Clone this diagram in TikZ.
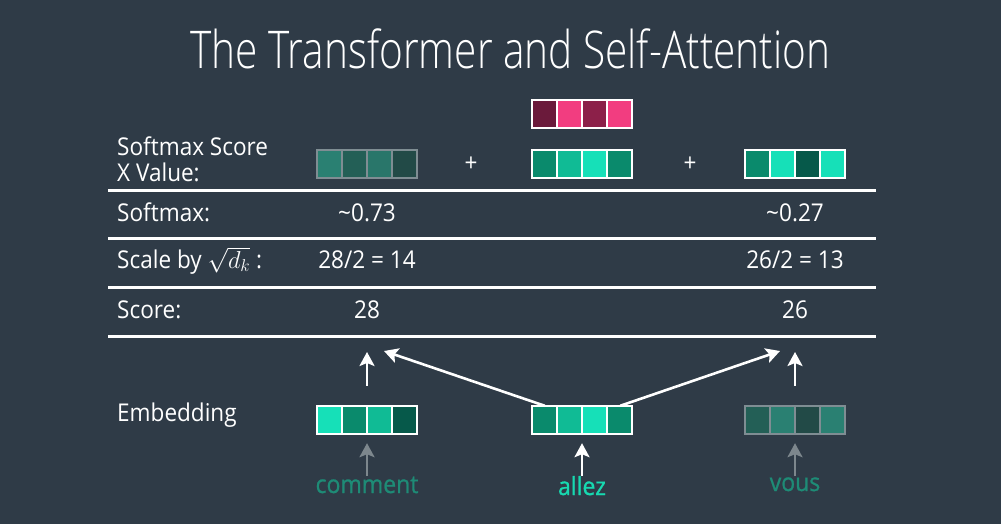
\RequirePackage{fix-cm}
\documentclass[tikz,border=0pt]{standalone}
\usepackage{fontspec}
\setmainfont{Open Sans}[FakeStretch=0.92]
\newfontfamily\titlefont{Open Sans Light}[FakeStretch=0.78]
\newfontfamily\wordfont{Open Sans}[FakeStretch=0.92,FakeBold=0.9]
\usetikzlibrary{arrows.meta,calc}
\definecolor{bg}{HTML}{2F3B47}
\definecolor{pkD}{HTML}{6B1A3B}
\definecolor{pkB}{HTML}{F23D80}
\definecolor{pkM}{HTML}{8C2049}
\definecolor{tA}{HTML}{16E0B8}
\definecolor{tB}{HTML}{10BB95}
\definecolor{tC}{HTML}{0A8A6C}
\definecolor{tD}{HTML}{06594A}
\definecolor{dA}{HTML}{2A8072}
\definecolor{dB}{HTML}{235F56}
\definecolor{dC}{HTML}{29766A}
\definecolor{dD}{HTML}{224A47}
\definecolor{dimborder}{HTML}{7F8D93}
\definecolor{wdim}{HTML}{1E8B76}
\definecolor{wbright}{HTML}{17D9B0}
\definecolor{arrgray}{HTML}{7D878D}
\newcommand\vecb[8]{%
  \fill[#4] (#2,#3) rectangle ++(25,28);
  \fill[#5] (#2+25,#3) rectangle ++(25,28);
  \fill[#6] (#2+50,#3) rectangle ++(25,28);
  \fill[#7] (#2+75,#3) rectangle ++(25,28);
  \draw[#8] (#2,#3) rectangle ++(100,28);
  \draw[#8] (#2+25,#3) -- ++(0,28);
  \draw[#8] (#2+50,#3) -- ++(0,28);
  \draw[#8] (#2+75,#3) -- ++(0,28);
  \node[inner sep=0pt, minimum width=100pt, minimum height=28pt] (#1) at (#2+50,#3+14) {};
}
\begin{document}
\begin{tikzpicture}[x=1pt,y=-1pt,
  lbl/.style={text=white, font=\fontsize{24.5}{29}\selectfont, inner sep=0pt, anchor=base west},
  val/.style={text=white, font=\fontsize{24.5}{29}\selectfont, inner sep=0pt, anchor=base},
  word/.style={font=\wordfont\fontsize{25}{29}\selectfont, inner sep=0pt, anchor=base},
  rule/.style={draw=white, line width=3pt},
  brd/.style={draw=white, line width=2pt},
  dbrd/.style={draw=dimborder, line width=1.6pt},
  arr/.style={draw=white, line width=2.6pt, -{Stealth[length=14pt,width=15pt,inset=3pt]}},
  garr/.style={arr, draw=arrgray}]
\fill[bg] (0,0) rectangle (1001,524);
\useasboundingbox (0,0) rectangle (1001,524);
% title
\node[font=\titlefont\fontsize{52}{60}\selectfont, text=white, inner sep=0pt, anchor=base] (title) at (510.5,69) {The Transformer and Self-Attention};
% rules
\draw[rule] (108,190.5) -- (876,190.5);
\draw[rule] (108,238.5) -- (876,238.5);
\draw[rule] (108,287.5) -- (876,287.5);
\draw[rule] (108,336.5) -- (876,336.5);
% row labels
\node[lbl] (l1a) at (117,155) {Softmax Score};
\node[lbl] (l1b) at (117,181.5) {X Value:};
\node[lbl] (l2) at (117,221.5) {Softmax:};
\node[lbl] (l3) at (117,268) {Scale by $\sqrt{d_k}$ :};
\node[lbl] (l4) at (117,318) {Score:};
% values
\node[val] (v2a) at (367,221.5) {\textasciitilde 0.73};
\node[val] (v2c) at (795,221.5) {\textasciitilde 0.27};
\node[val] (v3a) at (367,268) {28/2 = 14};
\node[val] (v3c) at (795,268) {26/2 = 13};
\node[val] (v4a) at (367,318) {28};
\node[val] (v4c) at (795,318) {26};
% vectors
\vecb{pink}{532}{100}{pkD}{pkB}{pkM}{pkB}{brd}
\vecb{valA}{317}{150}{dA}{dB}{dC}{dD}{dbrd}
\vecb{valB}{532}{150}{tC}{tB}{tA}{tC}{brd}
\vecb{valC}{745}{150}{tC}{tA}{tD}{tA}{brd}
\vecb{embA}{317}{406}{tA}{tC}{tB}{tD}{brd}
\vecb{embB}{532}{406}{tC}{tB}{tA}{tC}{brd}
\vecb{embC}{745}{406}{dB}{dA}{dD}{dA}{dbrd}
% plus signs
\node[val, anchor=center] (p1) at (471,164) {+};
\node[val, anchor=center] (p2) at (690,164) {+};
% embedding label
\node[lbl] (l5) at (117,421) {Embedding};
% words
\node[word, text=wdim] (wA) at (367,493) {comment};
\node[word, text=wbright] (wB) at (582,495) {allez};
\node[word, text=wdim] (wC) at (795,491) {vous};
% arrows
\coordinate (scA) at (367,352);
\coordinate (scC) at (795,352);
\coordinate (dgA) at (384,351);
\coordinate (dgC) at (780,351);
\draw[arr] ($(embA.north)+(0,-20)$) -- (scA);
\draw[arr] ($(embC.north)+(0,-20)$) -- (scC);
\draw[arr] ($(embB.north west)+(13,0)$) -- (dgA);
\draw[arr] ($(embB.north east)+(-12,0)$) -- (dgC);
\draw[garr] (367,476) -- ($(embA.south)+(0,9)$);
\draw[arr] (582,476) -- ($(embB.south)+(0,9)$);
\draw[garr] (795,476) -- ($(embC.south)+(0,9)$);
\end{tikzpicture}
\end{document}
